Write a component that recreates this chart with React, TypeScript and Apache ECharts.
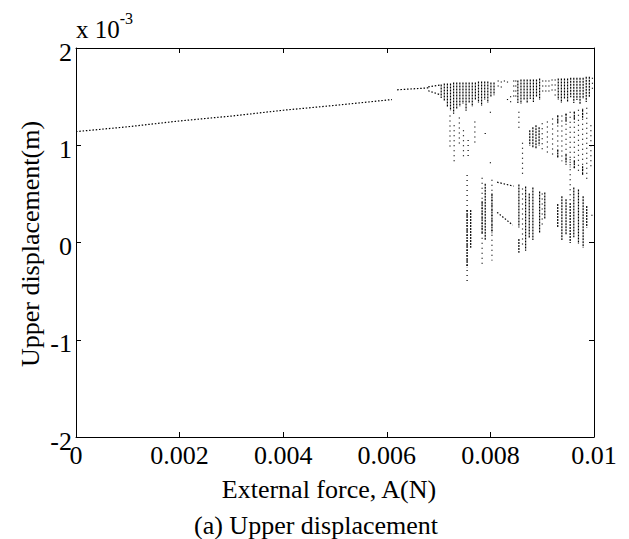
import React, { useEffect, useRef } from "react";
import * as echarts from "echarts";

// ---- data (x in N, y in units of 1e-3 m) ----
const xTickLabels = ["0", "0.002", "0.004", "0.006", "0.008", "0.01"];
const yTickLabels = ["-2", "-1", "0", "1", "2"];

// period-1 branch
const branchX = [0, 0.001, 0.002, 0.003, 0.004, 0.005, 0.0061];
const branchY = [1.14, 1.19, 1.25, 1.3, 1.36, 1.41, 1.47];
// after the jump
const jumpX = [0.0062, 0.0068];
const jumpY = [1.57, 1.59];
// period-2 split
const splitUpperX = [0.0068, 0.00703];
const splitUpperY = [1.6, 1.62];
const splitLowerX = [0.0068, 0.00703];
const splitLowerY = [1.56, 1.52];
// faint diagonal branches in the lower cluster
const diagAX = [0.00813, 0.00845];
const diagAY = [0.62, 0.58];
const diagBX = [0.00813, 0.00843];
const diagBY = [0.31, 0.18];

// chaotic bands: [x, low, high]
const denseBands: [number, number, number][] = [
  // upper band
  [0.00705, 1.49, 1.62], [0.00711, 1.46, 1.63], [0.00717, 1.4, 1.63], [0.00723, 1.36, 1.63],
  [0.00729, 1.33, 1.64], [0.00735, 1.38, 1.64], [0.00741, 1.4, 1.64], [0.00747, 1.43, 1.64],
  [0.00753, 1.36, 1.64], [0.00759, 1.44, 1.64], [0.00765, 1.4, 1.64], [0.00771, 1.47, 1.64],
  [0.00777, 1.44, 1.65], [0.00783, 1.41, 1.65], [0.00789, 1.47, 1.65], [0.00795, 1.44, 1.65],
  [0.00801, 1.5, 1.64], [0.00807, 1.52, 1.64],
  [0.00853, 1.44, 1.66], [0.00859, 1.43, 1.67], [0.00865, 1.47, 1.67], [0.00871, 1.44, 1.67],
  [0.00877, 1.48, 1.67], [0.00883, 1.45, 1.67], [0.00889, 1.5, 1.67], [0.00895, 1.47, 1.68],
  [0.00931, 1.47, 1.68], [0.00937, 1.44, 1.68], [0.00943, 1.48, 1.68], [0.00949, 1.45, 1.68],
  [0.00955, 1.5, 1.69], [0.00961, 1.44, 1.69], [0.00967, 1.47, 1.69], [0.00973, 1.43, 1.69],
  [0.00979, 1.48, 1.69], [0.00985, 1.45, 1.7], [0.00991, 1.5, 1.7],
  // middle wedge
  [0.00876, 1.0, 1.15], [0.00882, 0.98, 1.18], [0.00888, 0.97, 1.2], [0.00894, 1.0, 1.18],
  [0.0093, 1.22, 1.3], [0.00946, 1.24, 1.32], [0.00962, 1.26, 1.34], [0.00978, 1.28, 1.36],
  [0.0093, 0.88, 0.95], [0.00946, 0.82, 0.9], [0.00962, 0.76, 0.84], [0.00978, 0.7, 0.78],
  // lower cluster
  [0.00755, -0.25, 0.33], [0.00762, -0.05, 0.33], [0.00784, 0.1, 0.42], [0.0079, 0.03, 0.6],
  [0.00803, 0.1, 0.5], [0.00855, 0.16, 0.59], [0.00855, -0.1, 0.03], [0.00868, -0.08, 0.57],
  [0.00875, 0.05, 0.5], [0.00882, 0.03, 0.56], [0.00895, 0.1, 0.52], [0.00905, 0.25, 0.51],
  [0.0093, 0.16, 0.39], [0.00938, 0.03, 0.47], [0.00946, 0.08, 0.44], [0.00954, 0.0, 0.4],
  [0.00961, 0.06, 0.56], [0.0097, -0.01, 0.54], [0.00979, -0.05, 0.47], [0.00986, 0.16, 0.37],
];

const sparseBands: [number, number, number][] = [
  // gaps inside the upper band
  [0.00815, 1.58, 1.66], [0.00821, 1.6, 1.65], [0.00827, 1.62, 1.66], [0.00833, 1.44, 1.47],
  [0.00833, 1.62, 1.65], [0.00839, 1.44, 1.5], [0.00845, 1.5, 1.66], [0.00849, 1.48, 1.66],
  [0.00901, 1.52, 1.66], [0.00907, 1.55, 1.66], [0.00913, 1.52, 1.66], [0.00919, 1.56, 1.67],
  [0.00925, 1.5, 1.67], [0.00997, 1.55, 1.69],
  // scattered middle points
  [0.00722, 0.95, 1.3], [0.0073, 0.8, 1.2], [0.0074, 1.0, 1.28], [0.00748, 0.85, 1.15],
  [0.00757, 0.88, 1.05], [0.0077, 1.02, 1.24], [0.0079, 1.1, 1.12], [0.008, 1.31, 1.34],
  [0.008, 0.78, 0.82], [0.00855, 1.15, 1.34], [0.00862, 0.7, 1.02],
  [0.009, 0.95, 1.22], [0.0091, 0.92, 1.24], [0.0092, 0.9, 1.27], [0.0093, 0.86, 1.3],
  [0.00938, 0.84, 1.3], [0.00946, 0.8, 1.32], [0.00954, 0.78, 1.34], [0.00962, 0.74, 1.34],
  [0.0097, 0.72, 1.36], [0.00978, 0.68, 1.37], [0.00986, 0.66, 1.38], [0.00994, 0.75, 1.2],
  // lower cluster tails
  [0.00755, -0.42, 0.69], [0.00784, -0.23, 0.66], [0.00803, -0.18, 0.64], [0.00862, -0.05, 0.55],
  [0.009, 0.15, 0.5], [0.00954, 0.4, 0.85], [0.00996, 0.24, 0.28],
];

const zip = (xs: number[], ys: number[]) => xs.map((x, i) => [x, ys[i]]);

const FONT = "'Liberation Serif', 'Times New Roman', serif";

export default function App() {
  const ref = useRef<HTMLDivElement>(null);
  useEffect(() => {
    if (!ref.current) return;
    const chart = echarts.init(ref.current, undefined, { renderer: "svg" });

    const bandRender = (dash: number[]) => (params: any, api: any) => {
      const x = api.value(0);
      const lo = api.value(1);
      const hi = api.value(2);
      const p1 = api.coord([x, hi]);
      const p2 = api.coord([x, lo]);
      return {
        type: "line",
        shape: { x1: p1[0], y1: p1[1] - 0.5, x2: p2[0], y2: p2[1] + 0.5 },
        style: { stroke: "#000", lineWidth: 1.2, lineDash: dash },
      };
    };

    const dottedLine = (data: number[][]) => ({
      type: "line",
      data,
      symbol: "none",
      silent: true,
      lineStyle: { color: "#000", width: 1.2, type: [1.5, 1.8] },
      xAxisIndex: 0,
      yAxisIndex: 0,
    });

    const axisCommon = {
      axisLine: { show: true, onZero: false, lineStyle: { color: "#000", width: 1 } },
      axisTick: { show: true, inside: true, length: 5, lineStyle: { color: "#000", width: 1 } },
      splitLine: { show: false },
    };

    chart.setOption({
      animation: false,
      backgroundColor: "#fff",
      grid: { left: 76, top: 48, width: 518, height: 389, containLabel: false },
      xAxis: [
        {
          type: "value",
          min: 0,
          max: 0.01,
          interval: 0.002,
          position: "bottom",
          ...axisCommon,
          axisLabel: {
            show: true,
            margin: 5,
            color: "#000",
            fontFamily: FONT,
            fontSize: 26,
            formatter: (v: number) => xTickLabels[Math.round(v / 0.002)] ?? "",
          },
        },
        {
          type: "value",
          min: 0,
          max: 0.01,
          interval: 0.002,
          position: "top",
          ...axisCommon,
          axisLabel: { show: false },
        },
      ],
      yAxis: [
        {
          type: "value",
          min: -2,
          max: 2,
          interval: 1,
          position: "left",
          ...axisCommon,
          axisLabel: {
            show: true,
            margin: 4,
            color: "#000",
            fontFamily: FONT,
            fontSize: 26,
            formatter: (v: number) => "{v|" + (yTickLabels[Math.round(v + 2)] ?? "") + "}",
            rich: {
              v: { fontFamily: FONT, fontSize: 26, color: "#000", padding: [8, 0, 0, 0] },
            },
          },
        },
        {
          type: "value",
          min: -2,
          max: 2,
          interval: 1,
          position: "right",
          ...axisCommon,
          axisLabel: { show: false },
        },
      ],
      graphic: [
        {
          type: "text",
          x: 76,
          y: 42,
          style: {
            text: "{a|x 10}{b|-3}",
            verticalAlign: "bottom",
            fill: "#000",
            rich: {
              a: { fontFamily: FONT, fontSize: 25, fill: "#000", verticalAlign: "bottom" },
              b: { fontFamily: FONT, fontSize: 16, fill: "#000", verticalAlign: "top", padding: [0, 0, 16, 0] },
            },
          },
        },
        {
          type: "text",
          x: 30,
          y: 244,
          rotation: Math.PI / 2,
          style: {
            text: "Upper displacement(m)",
            fontFamily: FONT,
            fontSize: 26,
            fill: "#000",
            align: "center",
            verticalAlign: "middle",
          },
        },
        {
          type: "text",
          x: 329,
          y: 489,
          style: {
            text: "External force, A(N)",
            fontFamily: FONT,
            fontSize: 26,
            fill: "#000",
            align: "center",
            verticalAlign: "middle",
          },
        },
        {
          type: "text",
          x: 316,
          y: 525,
          style: {
            text: "(a) Upper displacement",
            fontFamily: FONT,
            fontSize: 26,
            fill: "#000",
            align: "center",
            verticalAlign: "middle",
          },
        },
      ],
      series: [
        dottedLine(zip(branchX, branchY)),
        dottedLine(zip(jumpX, jumpY)),
        dottedLine(zip(splitUpperX, splitUpperY)),
        dottedLine(zip(splitLowerX, splitLowerY)),
        dottedLine(zip(diagAX, diagAY)),
        dottedLine(zip(diagBX, diagBY)),
        {
          type: "custom",
          silent: true,
          renderItem: bandRender([2, 1]),
          data: denseBands,
          encode: { x: 0, y: [1, 2] },
        },
        {
          type: "custom",
          silent: true,
          renderItem: bandRender([1, 4]),
          data: sparseBands,
          encode: { x: 0, y: [1, 2] },
        },
      ],
    });
    return () => chart.dispose();
  }, []);
  return (
    <div
      ref={ref}
      style={{ position: "fixed", left: 0, top: 0, width: 629, height: 539, background: "#fff" }}
    />
  );
}
